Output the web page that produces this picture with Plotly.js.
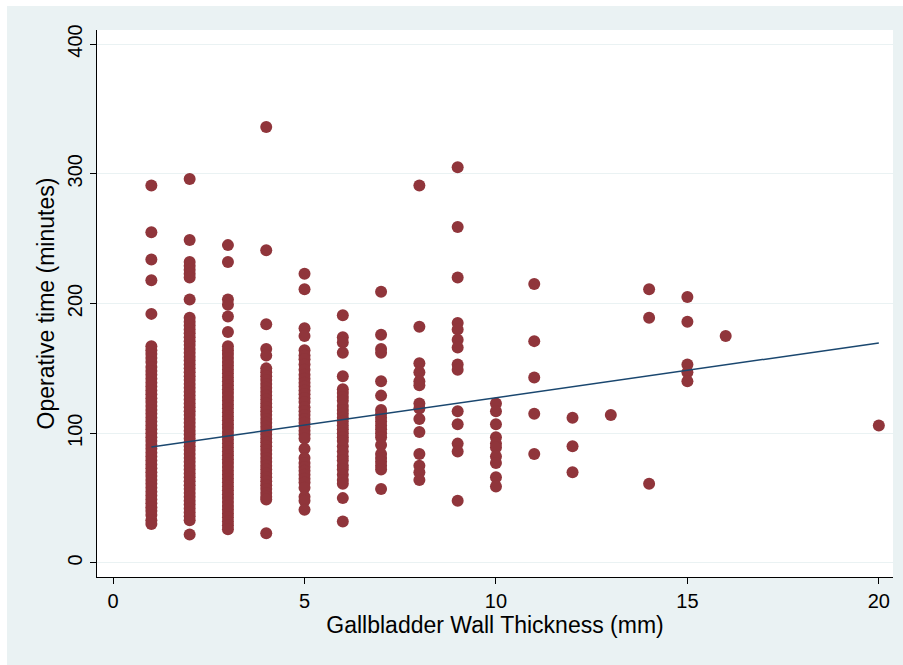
<!DOCTYPE html>
<html>
<head>
<meta charset="utf-8">
<script src="https://cdn.plot.ly/plotly-3.0.1.min.js"></script>
<style>
  html, body { margin: 0; padding: 0; background: #ffffff; width: 903px; height: 665px; overflow: hidden; }
  #chart { position: absolute; left: 7px; top: 6px; width: 896px; height: 659px; }
</style>
</head>
<body>
<div id="chart"></div>
<script>
// Operative time (minutes) by gallbladder wall thickness (mm)
const thickness = [1, 2, 3, 4, 5, 6, 7, 8, 9, 10, 11, 12, 13, 14, 15, 16, 20];
const time1  = [291,255,234,218,192,167,164,161,158,155,151,148,145,142,139,136,133,130,127,124,121,118,115,112,109,106,103,100,97,94,91,88,85,82,79,76,73,70,67,64,61,58,55,52,49,46,43,40,37,33,30];
const time2  = [296,249,232,229,226,223,220,203,189,186,183,180,177,174,171,168,165,162,159,156,153,150,147,144,141,138,135,132,129,126,123,120,117,114,111,108,105,102,99,96,93,90,87,84,81,78,75,72,69,66,63,60,57,54,51,48,45,42,39,36,33,22];
const time3  = [245,232,203,199,190,178,167,164,161,158,155,152,149,146,143,140,137,134,131,128,125,122,119,116,113,110,107,104,101,98,95,92,89,86,83,80,77,74,71,68,65,62,59,56,53,50,47,44,41,38,35,32,29,26];
const time4  = [336,241,184,165,160,150,147,144,141,138,135,132,129,126,123,120,117,114,111,108,105,102,99,96,93,90,87,84,81,78,75,72,69,66,63,60,57,54,51,49,23];
const time5  = [223,211,181,175,164,160,157,153,149,145,142,139,136,133,130,127,124,120,117,114,111,108,105,102,99,96,88,81,77,74,71,68,65,62,58,51,48,41];
const time6  = [191,174,170,162,144,134,131,128,125,121,118,115,112,109,106,103,100,97,94,90,86,82,79,75,72,68,64,61,50,32];
const time7  = [209,176,165,162,140,129,118,115,112,109,106,103,100,97,91,84,81,78,75,72,57];
const time8  = [291,182,154,147,140,137,123,119,111,101,84,75,70,64];
const time9  = [305,259,220,185,180,172,166,153,149,117,107,92,86,48];
const time10 = [123,117,107,97,92,89,82,77,66,59];
const time11 = [215,171,143,115,84];
const time12 = [112,90,70];
const time13 = [114];
const time14 = [211,189,61];
const time15 = [205,186,153,147,140];
const time16 = [175];
const time20 = [106];
const timesByThickness = [time1,time2,time3,time4,time5,time6,time7,time8,time9,time10,time11,time12,time13,time14,time15,time16,time20];

// Fitted (linear) line, read at its ends
const fitX = [1, 20];
const fitY = [89.4, 169.6];

const xTicks = [0, 5, 10, 15, 20];
const yTicks = [0, 100, 200, 300, 400];

const px = [], py = [];
thickness.forEach((t, i) => {
  timesByThickness[i].forEach(v => { px.push(t); py.push(v); });
});

const FONT = '"Liberation Sans", Arial, Helvetica, sans-serif';

const traces = [
  {
    type: 'scatter', mode: 'markers', x: px, y: py,
    marker: { color: '#90353b', size: 12, line: { width: 0 } },
    hoverinfo: 'x+y', showlegend: false
  },
  {
    type: 'scatter', mode: 'lines', x: fitX, y: fitY,
    line: { color: '#1a476f', width: 1.5 },
    hoverinfo: 'skip', showlegend: false
  }
];

const layout = {
  width: 896, height: 659,
  paper_bgcolor: '#eaf2f3',
  plot_bgcolor: '#ffffff',
  margin: { l: 90, r: 10, t: 24, b: 88 },
  font: { family: FONT, color: '#000000', size: 20 },
  showlegend: false,
  xaxis: {
    range: [-0.42, 20.37],
    tickvals: xTicks,
    ticktext: xTicks.map(String),
    ticks: 'outside', ticklen: 6, tickwidth: 1, tickcolor: '#000000',
    showline: true, linecolor: '#000000', linewidth: 1,
    showgrid: false, zeroline: false,
    tickfont: { family: FONT, size: 20, color: '#000000' },
    title: { text: 'Gallbladder Wall Thickness (mm)', font: { family: FONT, size: 23, color: '#000000' }, standoff: 3 }
  },
  yaxis: {
    range: [-10.8, 410.8],
    tickvals: yTicks,
    ticktext: yTicks.map(String),
    tickangle: -90,
    ticks: 'outside', ticklen: 6, tickwidth: 1, tickcolor: '#000000',
    showline: true, linecolor: '#000000', linewidth: 1,
    showgrid: true, gridcolor: '#eaf2f3', gridwidth: 1,
    zeroline: false,
    tickfont: { family: FONT, size: 20, color: '#000000' },
    title: { text: 'Operative time (minutes)', font: { family: FONT, size: 23, color: '#000000' }, standoff: 2 }
  }
};

Plotly.newPlot('chart', traces, layout, { displayModeBar: false, staticPlot: true });
</script>
</body>
</html>
